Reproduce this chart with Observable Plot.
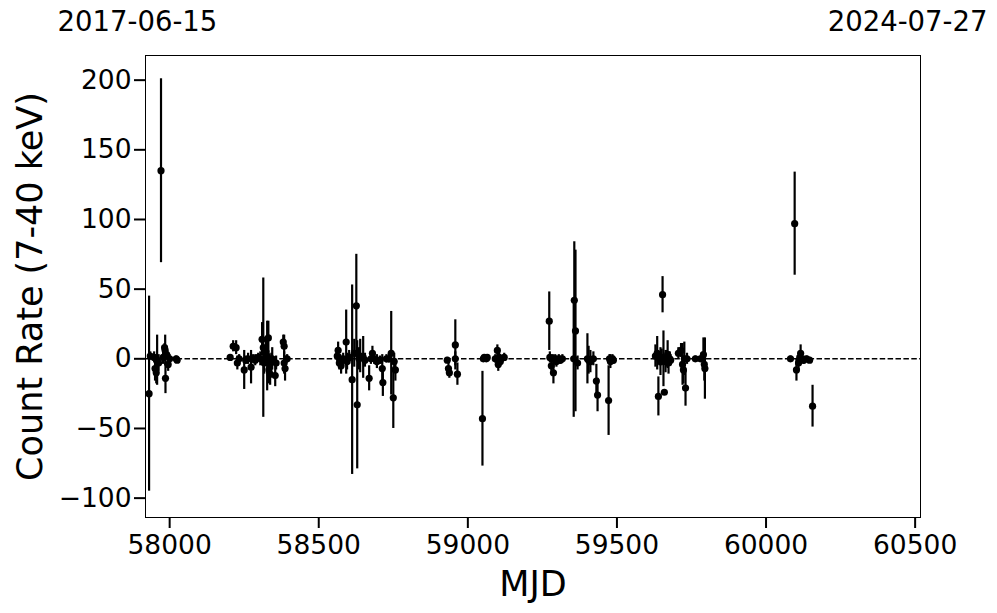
<!DOCTYPE html>
<html>
<head>
<meta charset="utf-8">
<script src="https://cdn.jsdelivr.net/npm/d3@7"></script>
<script src="https://cdn.jsdelivr.net/npm/@observablehq/plot@0.6"></script>
<style>
  html, body { margin: 0; padding: 0; background: #fff; }
  #chart svg { display: block; }
</style>
</head>
<body>
<div id="chart"></div>
<script>
// MJD of each observation
const mjd = [
  57931, 57935, 57948, 57951, 57955, 57958, 57963, 57971, 57978, 57983, 57985, 57986, 57990, 57995, 58000, 58022, 58025,
  58203, 58213, 58223, 58227, 58233, 58250, 58255, 58263, 58273, 58280, 58287, 58297, 58304, 58310, 58314, 58317, 58323, 58327, 58331, 58333, 58337, 58341, 58344, 58354, 58357, 58381, 58384, 58384, 58387, 58394,
  58562, 58565, 58569, 58572, 58575, 58582, 58592, 58595, 58602, 58612, 58619, 58626, 58629, 58635, 58639, 58649, 58655, 58669, 58675, 58680, 58686, 58695, 58705, 58713, 58715, 58727, 58735, 58743, 58750, 58753, 58757,
  58931, 58935, 58938, 58958, 58958, 58965, 59049, 59052, 59055, 59062, 59065, 59092, 59099, 59102, 59105, 59109, 59122,
  59273, 59275, 59280, 59285, 59287, 59293, 59297, 59305, 59310, 59317, 59357, 59361, 59355, 59368, 59401, 59405, 59411, 59421, 59431, 59435, 59472, 59475, 59478, 59485, 59488,
  59629, 59635, 59639, 59643, 59646, 59650, 59653, 59656, 59659, 59663, 59666, 59670, 59673, 59677, 59680, 59706, 59715, 59720, 59723, 59726, 59730, 59735, 59763, 59780, 59790, 59793, 59795,
  60082, 60096, 60102, 60109, 60113, 60116, 60120, 60126, 60136, 60146, 60156
];
// Count rate (7-40 keV)
const rate = [
  -25, 2, 1, -7, -10, -1, -3, 135, 1, 8, 6, -14, 3, -4, 0, 0, -1,
  1, 9, 8, -3, 0, -8, -1, 0, -6, 0, -1, 1, 0, 14, 8, -3, 5, 2, 15, -8, -11, -2, 0, -12, -3, 12, 9, -3, -7, 0,
  2, 6, -3, 0, -5, 0, 12, -2, 1, -15, 4, 38, -33, 0, 2, 1, -1, -14, 0, 4, 0, -2, -1, -7, -17, 0, 0, 4, -28, -2, -8,
  -1, -7, -10, 10, 0, -11, -43, 0, 1, 0, 1, 0, 6, -4, 1, -2, 1,
  27, 1, -5, 0, -10, 0, -2, 0, -1, 0, 42, 20, 0, -3, 0, -1, -2, 0, -16, -26, -30, 0, -2, 0, -1,
  2, 4, -27, 0, -2, 1, 46, 0, -24, -2, 0, 3, -3, 0, -1, 4, 6, -4, -8, 0, -21, 0, 0, 0, 3, -4, -7,
  0, 97, -8, -3, 1, 4, 0, -1, 0, -1, -34
];
// 1-sigma uncertainty
const rateErr = [
  70, 3, 4, 9, 8, 18, 6, 66, 5, 3, 11, 11, 4, 5, 3, 2, 2,
  2, 4, 5, 5, 3, 14, 3, 4, 12, 3, 4, 3, 5, 12, 50, 8, 10, 25, 12, 10, 8, 6, 8, 8, 5, 5, 8, 8, 9, 3,
  4, 6, 5, 3, 6, 4, 23, 6, 5, 68, 10, 37, 46, 8, 12, 15, 5, 9, 4, 5, 4, 5, 3, 10, 10, 3, 3, 30, 22, 6, 8,
  2, 5, 4, 18, 5, 8, 34, 2, 2, 2, 1, 3, 4, 5, 3, 3, 3,
  21, 4, 4, 3, 8, 3, 4, 3, 3, 3, 42, 58, 42, 5, 18, 10, 8, 5, 12, 12, 25, 3, 5, 3, 3,
  8, 12, 14, 5, 10, 6, 13, 20, 2, 8, 6, 10, 8, 5, 4, 4, 5, 15, 10, 12, 13, 4, 2, 2, 12, 12, 22,
  2, 37, 8, 5, 2, 6, 3, 3, 2, 2, 15
];
const xTicks = [58000, 58500, 59000, 59500, 60000, 60500];
const yTicks = [-100, -50, 0, 50, 100, 150, 200];
const startLabel = ["2017-06-15"];
const endLabel = ["2024-07-27"];
const xLabel = ["MJD"];
const yLabel = ["Count Rate (7-40 keV)"];

const data = mjd.map((m, i) => ({mjd: m, rate: rate[i], err: rateErr[i]}));
const fmt = d3.format("d");

const chart = Plot.plot({
  width: 997,
  height: 613,
  marginLeft: 145,
  marginRight: 77,
  marginTop: 55,
  marginBottom: 96,
  style: {fontFamily: "DejaVu Sans", background: "#fff", color: "#000"},
  x: {domain: [57919, 60518]},
  y: {domain: [-113.9, 217.7]},
  marks: [
    Plot.ruleY([0], {stroke: "#000", strokeWidth: 1.5, strokeDasharray: "5.5,2.4"}),
    Plot.ruleX(data, {x: "mjd", y1: d => d.rate - d.err, y2: d => d.rate + d.err, stroke: "#000", strokeWidth: 2.2}),
    Plot.dot(data, {x: "mjd", y: "rate", r: 3.6, fill: "#000", stroke: "none"}),
    Plot.frame({stroke: "#000", strokeWidth: 1}),
    Plot.axisX({ticks: xTicks, tickFormat: fmt, tickSize: 11, tickPadding: 7, fontSize: 26.5, strokeWidth: 2, label: null}),
    Plot.axisY({ticks: yTicks, tickFormat: fmt, tickSize: 11, tickPadding: 3, fontSize: 26.5, strokeWidth: 2, label: null}),
    Plot.text(xLabel, {frameAnchor: "bottom", dy: 67, lineAnchor: "middle", fontSize: 35, fill: "#000"}),
    Plot.text(yLabel, {frameAnchor: "left", dx: -115, rotate: -90, lineAnchor: "middle", textAnchor: "middle", fontSize: 35, fill: "#000"}),
    Plot.text(startLabel, {frameAnchor: "top-left", dx: -88, dy: -33, textAnchor: "start", lineAnchor: "middle", fontSize: 27.5, fill: "#000"}),
    Plot.text(endLabel, {frameAnchor: "top-right", dx: 67, dy: -33, textAnchor: "end", lineAnchor: "middle", fontSize: 27.5, fill: "#000"})
  ]
});
document.getElementById("chart").appendChild(chart);
</script>
</body>
</html>
